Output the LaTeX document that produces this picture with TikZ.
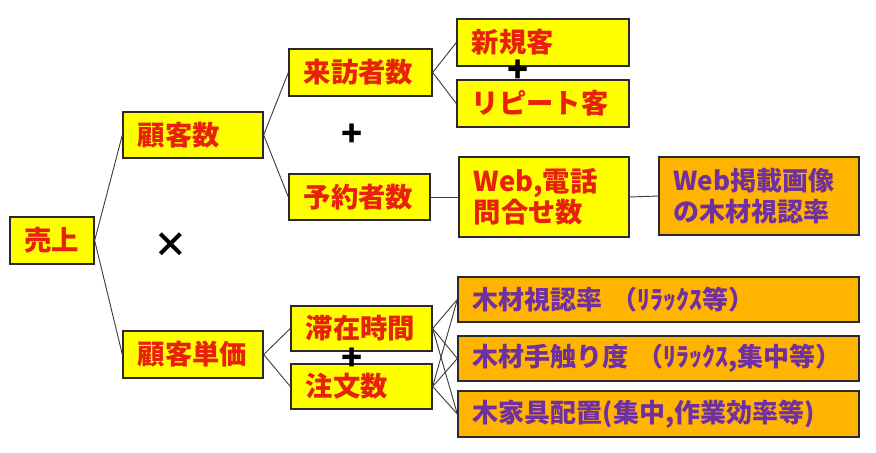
\documentclass[tikz,border=0pt]{standalone}
\usepackage{fontspec}
\setmainfont{Noto Sans CJK JP}
\usepackage{tikz}
\usepackage{xcolor}
\usetikzlibrary{positioning}
\definecolor{boxyellow}{HTML}{FFFF00}
\definecolor{boxorange}{HTML}{FFB400}
\definecolor{inkred}{HTML}{E8200C}
\definecolor{inkpurple}{HTML}{7030A0}
\definecolor{edge}{HTML}{2A2A2A}
\tikzset{
  ybox/.style={draw=edge,fill=boxyellow,line width=1pt,text=inkred,
               font=\bfseries\fontsize{20.5}{23}\selectfont,
               align=left,inner xsep=11pt,inner ysep=0pt},
  obox/.style={draw=edge,fill=boxorange,line width=1pt,text=inkpurple,
               font=\bfseries\fontsize{19.5}{23}\selectfont,
               align=left,inner xsep=11pt,inner ysep=0pt},
  link/.style={draw=edge!90,line width=0.7pt},
  sign/.style={font=\bfseries\fontsize{26}{26}\selectfont,text=black,inner sep=0pt}
}
\begin{document}
\begin{tikzpicture}[x=0.75pt,y=-0.75pt]
    \useasboundingbox (0,0) rectangle (876,453);
    \node[ybox,minimum width=63pt,minimum height=35.25pt,text width=41pt,align=center]
      (uri) at (52,240.5) {売上};
    \node[ybox,minimum width=105pt,minimum height=34.5pt,text width=83pt]
      (kyakusu) at (193,135) {顧客数};
    \node[ybox,minimum width=105pt,minimum height=35.25pt,text width=83pt]
      (tanka) at (193,354.5) {顧客単価};
    \node[ybox,minimum width=107.25pt,minimum height=35.25pt,text width=85pt]
      (raiho) at (360.5,72.5) {来訪者数};
    \node[ybox,minimum width=105.75pt,minimum height=34.5pt,text width=83.75pt]
      (yoyaku) at (359.5,197) {予約者数};
    \node[ybox,minimum width=105.75pt,minimum height=33.75pt,text width=83.75pt]
      (taizai) at (361.5,328.5) {滞在時間};
    \node[ybox,minimum width=105.75pt,minimum height=33.75pt,text width=83.75pt]
      (chumon) at (361.5,386.5) {注文数};
    \node[ybox,minimum width=129pt,minimum height=35.25pt,text width=107pt]
      (shinki) at (543,42.5) {新規客};
    \node[ybox,minimum width=129pt,minimum height=35.25pt,text width=107pt]
      (ripito) at (543,103.5) {リピート客};
    \node[ybox,minimum width=127.5pt,minimum height=60pt,text width=105.5pt]
      (webtel) at (544,197) {Web,電話\\問合せ数};
    \node[obox,minimum width=150pt,minimum height=58.5pt,text width=128pt]
      (webimg) at (759,196) {Web掲載画像\\の木材視認率};
    \node[obox,minimum width=300.75pt,minimum height=33.75pt,text width=278.75pt]
      (shikaku) at (658.5,299.5) {木材視認率 （ﾘﾗｯｸｽ等）};
    \node[obox,minimum width=300.75pt,minimum height=33.75pt,text width=278.75pt]
      (tezawari) at (658.5,358.5) {木材手触り度 （ﾘﾗｯｸｽ,集中等）};
    \node[obox,minimum width=300.75pt,minimum height=34.5pt,text width=278.75pt]
      (haichi) at (658.5,414) {木家具配置(集中,作業効率等)};
    \draw[link] (uri.east) -- (kyakusu.west);
    \draw[link] (uri.east) -- (tanka.west);
    \draw[link] (kyakusu.east) -- (raiho.west);
    \draw[link] (kyakusu.east) -- (yoyaku.west);
    \draw[link] (raiho.east) -- (shinki.west);
    \draw[link] (raiho.east) -- (ripito.west);
    \draw[link] (yoyaku.east) -- (webtel.west);
    \draw[link] (webtel.east) -- (webimg.west);
    \draw[link] (tanka.east) -- (taizai.west);
    \draw[link] (tanka.east) -- (chumon.west);
    \foreach \a in {taizai,chumon}
      \foreach \b in {shikaku,tezawari,haichi}
        \draw[link] (\a.east) -- (\b.west);
    \node[sign] (plusA) at (352,135) {+};
    \node[sign] (plusB) at (518,71) {+};
    \node[sign] (plusC) at (352,359) {+};
    \node[sign] (times) at (171,245) {×};
  \end{tikzpicture}
\end{document}
